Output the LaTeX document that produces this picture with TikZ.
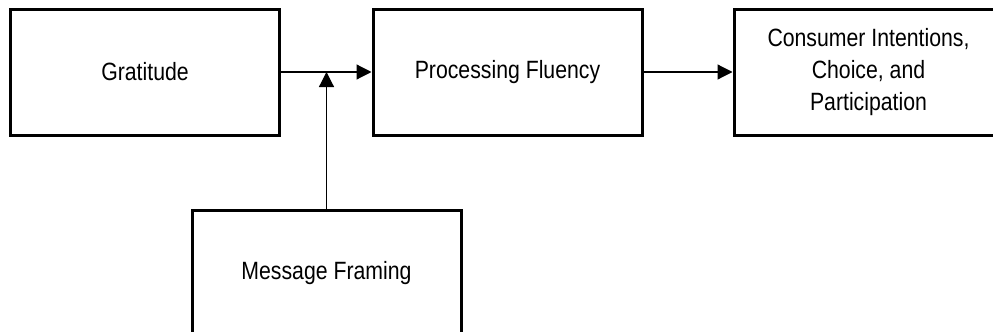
\documentclass[tikz,border=0pt]{standalone}
\usepackage{fontspec}
\setmainfont{Liberation Sans}[FakeStretch=0.85]
\usepackage{tikz}
\usetikzlibrary{calc,
                arrows.meta
                }

\tikzset{
    kasten/.style={draw, line width=1.5pt, minimum width=134.5pt,
        minimum height=63pt, align=center,
        font=\fontsize{12.5}{16}\selectfont},
    pfeil/.style={line width=0.6pt, -{Triangle[length=7.5pt, width=7.5pt]}}
}

\begin{document}
\begin{tikzpicture}[x=0.5pt, y=-0.5pt]
    % Rahmen des Bildes
    \useasboundingbox (0,0) rectangle (993,332);
    \clip (0,0) rectangle (993,332);

    % Zeichne die Kaesten
    \node[kasten] (grat) at (145,72) {Gratitude};
    \node[kasten] (proc) at (507.5,72) {Processing Fluency};
    \node[kasten] (cons) at (868.5,72) {Consumer Intentions,\\ Choice, and\\ Participation};
    \node[kasten] (msg) at (326.5,273) {Message Framing};

    % Zeichne die Pfeile
    \draw[pfeil] (grat) -- (proc);
    \draw[pfeil] (proc) -- (cons);

    % Zeichne den Moderator
    \draw[pfeil] (msg.north) -- (msg.north |- grat.east);
\end{tikzpicture}
\end{document}
